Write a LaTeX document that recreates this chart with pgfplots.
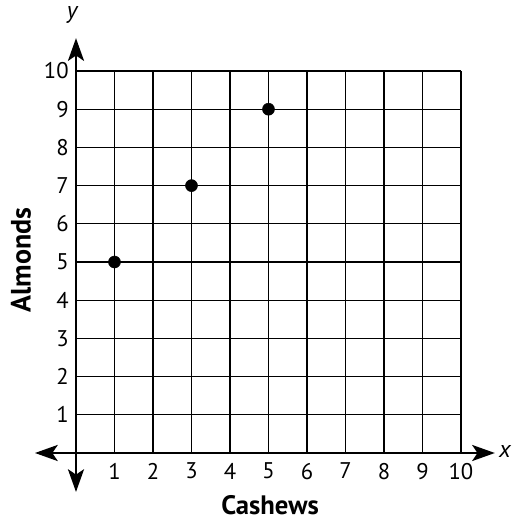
\documentclass[border=0pt]{standalone}
\usepackage{fontspec}
\setmainfont{PT Sans}
\usepackage{pgfplots}
\pgfplotsset{compat=1.18}
\usetikzlibrary{arrows.meta}
\begin{document}
\begin{tikzpicture}
\begin{axis}[
  x=28.875pt, y=28.65pt,
  xmin=0, xmax=10, ymin=0, ymax=10,
  axis lines=center,
  axis line style={draw=none},
  clip=false,
  xtick={1,...,10}, ytick={1,...,10},
  major tick length=0pt,
  grid=major,
  grid style={black, line width=0.9pt},
  /pgf/number format/assume math mode=true,
  ticklabel style={font=\fontsize{17}{20}\selectfont},
  xticklabel style={anchor=north, yshift=-4pt},
  yticklabel style={anchor=east, xshift=-2pt},
]
\addplot[only marks, mark=*, mark size=4.5pt, black] coordinates {(1,5) (3,7) (5,9)};
\draw[line width=2pt, -{Stealth[length=17pt,width=12pt,inset=4pt]}] (axis cs:0,0) -- (axis cs:10.88,0);
\draw[line width=2pt, -{Stealth[length=17pt,width=12pt,inset=4pt]}] (axis cs:0,0) -- (axis cs:-1.065,0);
\draw[line width=2pt, -{Stealth[length=17pt,width=12pt,inset=4pt]}] (axis cs:0,0) -- (axis cs:0,10.86);
\draw[line width=2pt, -{Stealth[length=17pt,width=12pt,inset=4pt]}] (axis cs:0,0) -- (axis cs:0,-1.02);
\node[font=\fontsize{18}{21}\selectfont\itshape] at (axis cs:-0.10,11.47) {y};
\node[font=\fontsize{18}{21}\selectfont\itshape] at (axis cs:11.14,0.05) {x};
\node[font=\fontsize{21}{24}\selectfont\bfseries, rotate=90] at (axis cs:-1.43,5.05) {Almonds};
\node[font=\fontsize{20}{23}\selectfont\bfseries, inner sep=1pt] at (axis cs:5.04,-1.36) {Cashews};
\path (axis cs:-1.974,-1.754) rectangle (axis cs:11.325,11.859);
\end{axis}
\end{tikzpicture}
\end{document}
